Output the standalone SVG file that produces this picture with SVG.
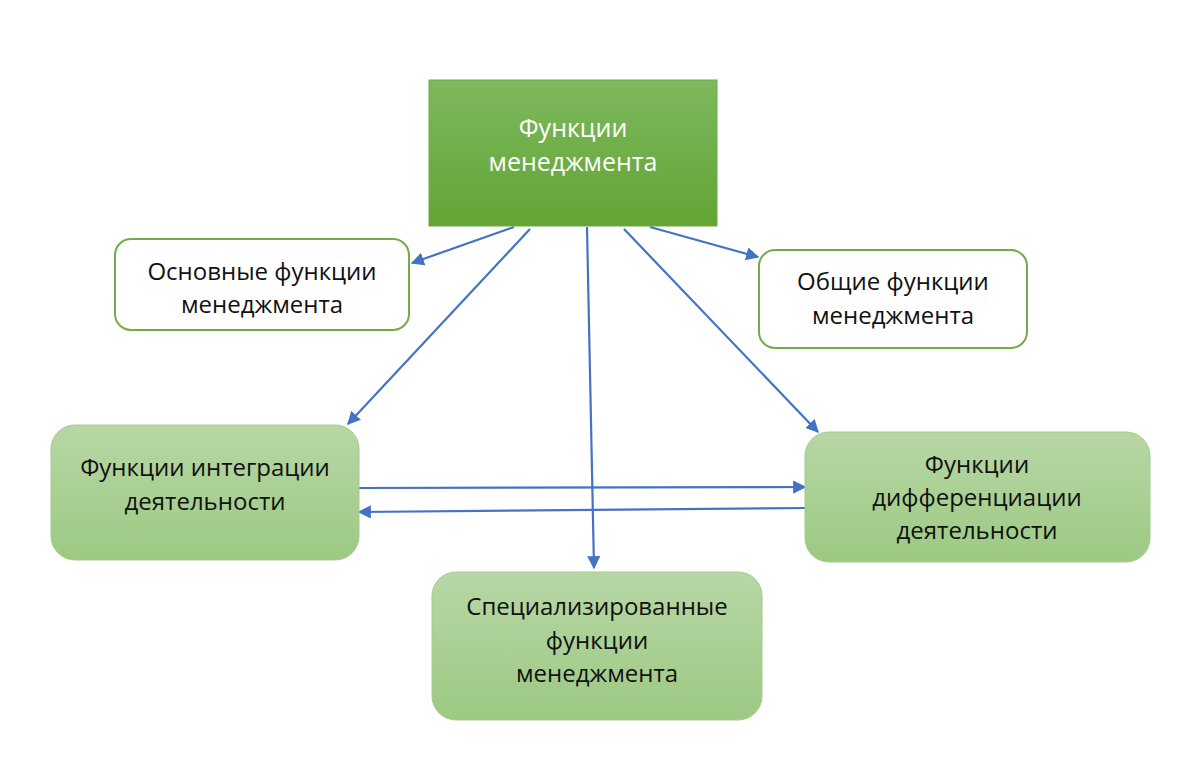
<svg xmlns="http://www.w3.org/2000/svg" width="1200" height="762" viewBox="0 0 1200 762">
<defs>
<linearGradient id="gTop" x1="0" y1="0" x2="0" y2="1"><stop offset="0" stop-color="#7db95e"/><stop offset="1" stop-color="#63a434"/></linearGradient>
<linearGradient id="gLight" x1="0" y1="0" x2="0" y2="1"><stop offset="0" stop-color="#b7d7a5"/><stop offset="1" stop-color="#9dc983"/></linearGradient>
<marker id="arr" viewBox="0 0 10 10" refX="9" refY="5" markerWidth="6" markerHeight="6" orient="auto" markerUnits="strokeWidth"><path d="M0,0 L10,5 L0,10 z" fill="#4472c4"/></marker>
<style>
text{font-family:"Open Sans","Noto Sans","DejaVu Sans",sans-serif;font-size:24px;text-anchor:middle;fill:#111}
.w{fill:#fff;font-size:25px}
.ol{fill:#fff;stroke:#70ad47;stroke-width:2}
.lt{fill:url(#gLight);stroke:#a3cc8b;stroke-width:1}
.c{stroke:#4472c4;stroke-width:2.2;fill:none;marker-end:url(#arr)}
</style>
</defs>
<rect width="1200" height="762" fill="#fff"/>
<g id="connectors">
<line class="c" x1="514" y1="227" x2="412" y2="263"/>
<line class="c" x1="530" y1="229" x2="348" y2="424"/>
<line class="c" x1="587" y1="227" x2="594" y2="568"/>
<line class="c" x1="624" y1="229" x2="818" y2="432"/>
<line class="c" x1="650" y1="227" x2="758" y2="257"/>
<line class="c" x1="358" y1="488" x2="805" y2="487"/>
<line class="c" x1="805" y1="508" x2="359" y2="512"/>
</g>
<g id="top">
<rect x="429" y="80" width="288" height="146" fill="url(#gTop)" stroke="#6aac40" stroke-width="1"/>
<text class="w" x="573" y="137">Функции</text>
<text class="w" x="573" y="171">менеджмента</text>
</g>
<g id="basic">
<rect class="ol" x="115" y="239" width="294" height="91" rx="16"/>
<text x="262" y="280">Основные функции</text>
<text x="262" y="313">менеджмента</text>
</g>
<g id="general">
<rect class="ol" x="759" y="250" width="268" height="98" rx="16"/>
<text x="893" y="290">Общие функции</text>
<text x="893" y="324">менеджмента</text>
</g>
<g id="integration">
<rect class="lt" x="51" y="425" width="308" height="135" rx="24"/>
<text x="205" y="476">Функции интеграции</text>
<text x="205" y="510">деятельности</text>
</g>
<g id="differentiation">
<rect class="lt" x="805" y="432" width="345" height="130" rx="24"/>
<text x="977" y="473">Функции</text>
<text x="977" y="506">дифференциации</text>
<text x="977" y="539">деятельности</text>
</g>
<g id="specialized">
<rect class="lt" x="432" y="572" width="330" height="148" rx="24"/>
<text x="597" y="615">Специализированные</text>
<text x="597" y="649">функции</text>
<text x="597" y="682">менеджмента</text>
</g>
</svg>
